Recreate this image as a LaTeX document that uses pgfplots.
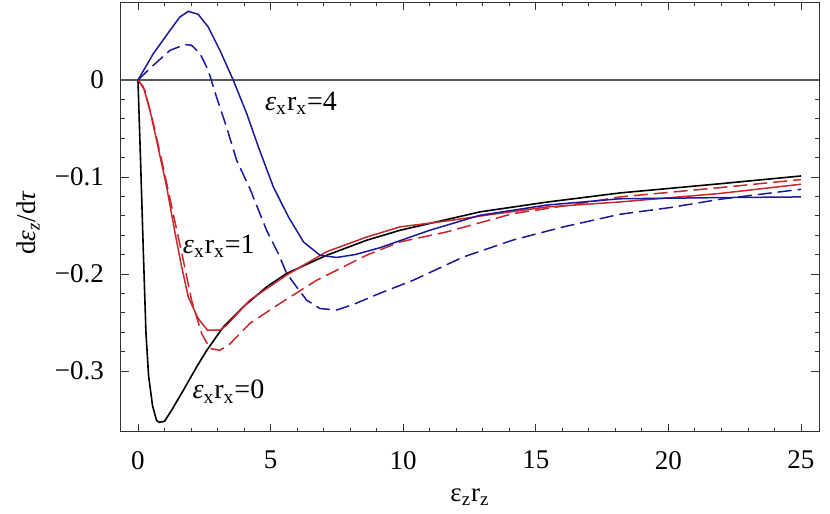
\documentclass[border=0pt]{standalone}
\usepackage{fontspec}
\setmainfont{Liberation Serif}
\usepackage{pgfplots}
\pgfplotsset{compat=1.18}
\definecolor{cblue}{rgb}{0.1,0.1,0.6}
\definecolor{cred}{rgb}{0.78,0.15,0.17}
\definecolor{frame}{rgb}{0.2,0.2,0.2}
\begin{document}
\begin{tikzpicture}
\begin{axis}[
  scale only axis,
  width=349pt, height=215pt,
  xmin=-0.64, xmax=25.68, ymin=-0.363, ymax=0.0804,
  axis line style={frame, line width=0.5pt},
  tick style={frame, line width=0.4pt},
  tick align=inside,
  tick pos=both,
  xticklabel pos=left, yticklabel pos=left,
  major tick length=4pt, minor tick length=2pt,
  minor tick num=4,
  xtick={0,5,10,15,20,25},
  xticklabels={0,5,10,15,20,25},
  ytick={-0.3,-0.2,-0.1,0},
  yticklabels={−0.3,−0.2,−0.1,0},
  ticklabel style={font=\fontsize{13.5}{15}\selectfont},
  xticklabel style={yshift=-6pt},
  yticklabel style={xshift=-5pt},
  clip=true,
]
\addplot[gray!70!black, line width=0.6pt, forget plot] coordinates {(-1,0) (26,0)};
% black: ex rx = 0
\addplot[black, line width=0.8pt] coordinates {
(0,0) (0.1,-0.085) (0.2,-0.175) (0.3,-0.26) (0.4,-0.305) (0.55,-0.336) (0.7,-0.351)
(0.8,-0.353) (1.0,-0.352) (1.27,-0.3405) (1.71,-0.32) (2.21,-0.296) (2.59,-0.279)
(3.22,-0.2546) (3.97,-0.234) (4.85,-0.2134) (5.6,-0.1996) (7.12,-0.1807) (8.62,-0.1653)
(9.88,-0.155) (12.9,-0.136) (15.4,-0.126) (18.17,-0.1165) (21.95,-0.107) (25,-0.099)};
% red solid: ex rx = 1
\addplot[cred, line width=0.75pt] coordinates {
(0,0) (0.2,-0.007) (0.45,-0.031) (0.7,-0.062) (1.08,-0.11) (1.4,-0.158) (1.65,-0.193)
(1.9,-0.224) (2.27,-0.246) (2.62,-0.258) (3.09,-0.258) (3.34,-0.2529) (4.22,-0.227)
(5.6,-0.2013) (7.12,-0.177) (8.62,-0.162) (9.88,-0.1515) (11.64,-0.1454) (13.5,-0.138)
(15.41,-0.131) (18.17,-0.1258) (21.95,-0.117) (25,-0.1075)};
% red dashed
\addplot[cred, line width=0.75pt, dash pattern=on 7pt off 3pt] coordinates {
(0,0) (0.26,-0.0106) (0.58,-0.045) (0.95,-0.0897) (1.33,-0.138) (1.71,-0.186)
(2.02,-0.227) (2.4,-0.2615) (2.72,-0.277) (3.09,-0.2787) (3.47,-0.272) (4.22,-0.251)
(5.35,-0.2305) (6.74,-0.2065) (8.62,-0.1807) (9.88,-0.167) (11.64,-0.1567)
(14.14,-0.1378) (16.67,-0.1274) (18.17,-0.1206) (21.95,-0.111) (25,-0.1027)};
% blue solid: ex rx = 4
\addplot[cblue, line width=0.75pt] coordinates {
(0,0) (0.58,0.0272) (1.21,0.0512) (1.58,0.065) (1.9,0.0708) (2.27,0.0677) (2.65,0.0546)
(3.09,0.0306) (3.59,0) (4.1,-0.0346) (4.54,-0.069) (5.1,-0.110) (5.67,-0.141)
(6.24,-0.167) (6.86,-0.1807) (7.49,-0.183) (8.2,-0.180) (9.12,-0.173) (11.0,-0.155)
(12.9,-0.1395) (15.41,-0.129) (18.17,-0.1225) (21.95,-0.1213) (25,-0.1206)};
% blue dashed
\addplot[cblue, line width=0.75pt, dash pattern=on 7pt off 3pt] coordinates {
(0,0) (0.58,0.0152) (1.21,0.0306) (1.77,0.0365) (2.02,0.0358) (2.34,0.0272) (2.65,0.01)
(2.96,-0.0175) (3.34,-0.0485) (3.72,-0.0828) (4.22,-0.112) (4.6,-0.138) (4.85,-0.155)
(5.29,-0.179) (5.6,-0.199) (5.98,-0.2134) (6.36,-0.227) (6.86,-0.2357) (7.49,-0.2372)
(8.12,-0.2315) (9.12,-0.220) (10.38,-0.2065) (12.27,-0.1825) (14.15,-0.165)
(16.04,-0.1515) (18.17,-0.1385) (20.06,-0.1316) (21.95,-0.123) (25,-0.1127)};
\node[font=\fontsize{14}{16}\selectfont] at (axis cs:6.15,-0.024) {\textit{ε}\textsubscript{x}r\textsubscript{x}=4};
\node[font=\fontsize{14}{16}\selectfont] at (axis cs:3.05,-0.1716) {\textit{ε}\textsubscript{x}r\textsubscript{x}=1};
\node[font=\fontsize{14}{16}\selectfont] at (axis cs:3.41,-0.3214) {\textit{ε}\textsubscript{x}r\textsubscript{x}=0};
\end{axis}
\node[font=\fontsize{13.5}{15}\selectfont, rotate=90] at ([xshift=-46.5pt,yshift=-3pt]current axis.west) {d\textit{ε}\textsubscript{\textit{z}}/d\textit{τ}};
\node[font=\fontsize{13.5}{15}\selectfont] at ([yshift=-32.5pt]current axis.south) {ε\textsubscript{z}r\textsubscript{z}};
\pgfresetboundingbox
\path[use as bounding box] ([shift={(-60.5pt,-41pt)}]current axis.south west) rectangle ++(415pt,257pt);
\end{tikzpicture}
\end{document}
